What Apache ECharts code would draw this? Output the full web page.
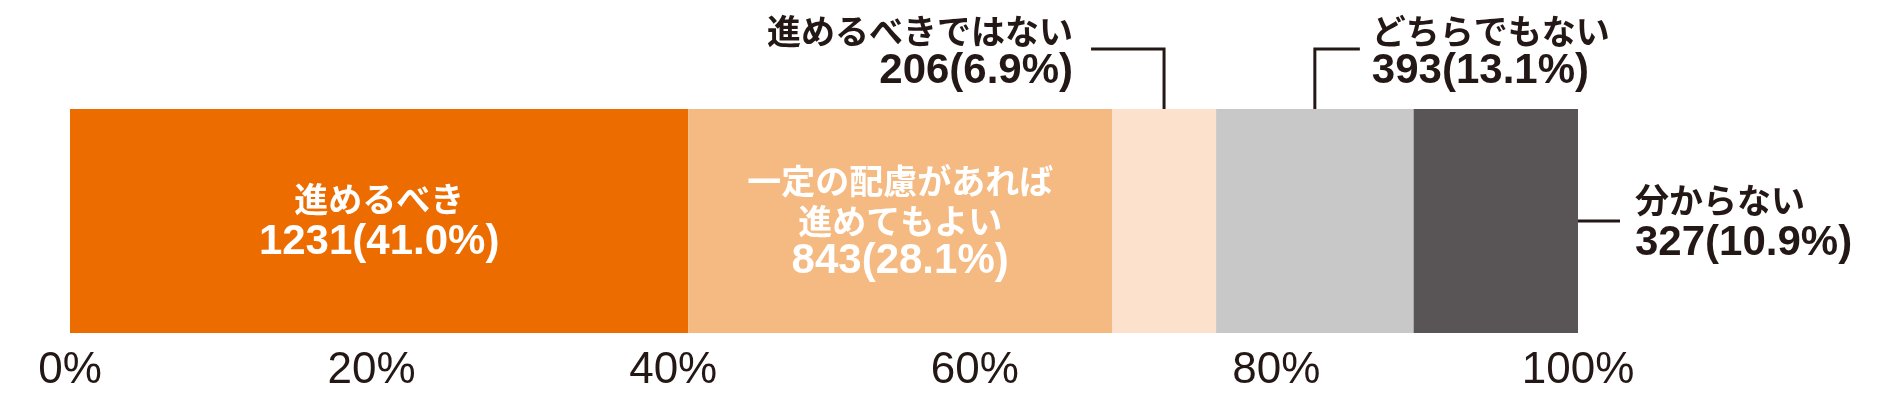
<!DOCTYPE html>
<html>
<head>
<meta charset="utf-8">
<script src="https://cdn.jsdelivr.net/npm/echarts@6/dist/echarts.min.js"></script>
<style>
html,body{margin:0;padding:0;background:#fff;}
#main{width:1900px;height:400px;}
</style>
</head>
<body>
<div id="main"></div>
<script>
const categories = ['進めるべき', '一定の配慮があれば\n進めてもよい', '進めるべきではない', 'どちらでもない', '分からない'];
const counts = [1231, 843, 206, 393, 327];
const percents = [41.0, 28.1, 6.9, 13.1, 10.9];
const colors = ['#EC6C00', '#F5B982', '#FCE2CC', '#C8C8C8', '#595556'];
const tickValues = [0, 20, 40, 60, 80, 100];

const TEXT = '#231815';
const JP = '"Noto Sans CJK JP", sans-serif';
const NUM = '"Liberation Sans", Arial, sans-serif';

const chart = echarts.init(document.getElementById('main'), null, {renderer: 'canvas'});

function numText(i) { return counts[i] + '(' + percents[i].toFixed(1) + '%)'; }

const series = categories.map((name, i) => {
  const inside = i < 2;
  return {
    name: name,
    type: 'bar',
    stack: 'total',
    barCategoryGap: '0%',
    barWidth: '100%',
    itemStyle: {color: colors[i]},
    emphasis: {disabled: true},
    label: inside ? {
      show: true,
      position: 'inside',
      formatter: () => name.split('\n').map(l => '{j|' + l + '}').join('\n') + '\n{n|' + numText(i) + '}',
      rich: {
        j: {fontFamily: JP, fontWeight: 'bold', fontSize: 34, color: '#fff', lineHeight: i === 0 ? 43 : 40},
        n: {fontFamily: NUM, fontWeight: 'bold', fontSize: 42, color: '#fff', lineHeight: i === 0 ? 43 : 40}
      }
    } : {show: false},
    data: [percents[i]]
  };
});

chart.setOption({
  animation: false,
  grid: {left: 70, right: 322, top: 109, bottom: 67, containLabel: false},
  xAxis: {
    type: 'value', min: 0, max: 100, interval: 20,
    axisLine: {show: false}, axisTick: {show: false}, splitLine: {show: false},
    axisLabel: {
      formatter: v => tickValues.includes(v) ? v + '%' : '',
      fontFamily: NUM, fontSize: 44, color: TEXT, margin: 16
    }
  },
  yAxis: {
    type: 'category', data: ['all'], show: false
  },
  series: series
});

// outside labels with leader lines
const starts = [];
let acc = 0;
percents.forEach(p => { starts.push(acc); acc += p; });
const px = v => chart.convertToPixel({xAxisIndex: 0}, v);
const barTop = 109, barBottom = 333, barMid = (barTop + barBottom) / 2;
const cx3 = px(starts[2] + percents[2] / 2);
const cx4 = px(starts[3] + percents[3] / 2);
const endX = px(starts[4] + percents[4]);

const lineStyle = {stroke: TEXT, lineWidth: 3, fill: null};
function txt(x, y, text, align, isJp) {
  return {
    type: 'text', x: x, y: y, silent: true,
    style: {
      text: text, fill: TEXT, align: align, verticalAlign: 'middle',
      font: isJp ? 'bold 34px ' + JP : 'bold 42px ' + NUM
    }
  };
}

chart.setOption({
  graphic: [
    {type: 'polyline', silent: true, shape: {points: [[cx3 - 73, 49], [cx3, 49], [cx3, barTop + 23]]}, style: lineStyle},
    txt(cx3 - 91, 31, categories[2], 'right', true),
    txt(cx3 - 91, 71, numText(2), 'right', false),

    {type: 'polyline', silent: true, shape: {points: [[cx4, barTop + 23], [cx4, 49], [cx4 + 45, 49]]}, style: lineStyle},
    txt(cx4 + 57, 31, categories[3], 'left', true),
    txt(cx4 + 57, 71, numText(3), 'left', false),

    {type: 'polyline', silent: true, shape: {points: [[endX - 38, barMid], [endX + 42, barMid]]}, style: lineStyle},
    txt(endX + 57, 200, categories[4], 'left', true),
    txt(endX + 57, 243, numText(4), 'left', false)
  ]
});
</script>
</body>
</html>
